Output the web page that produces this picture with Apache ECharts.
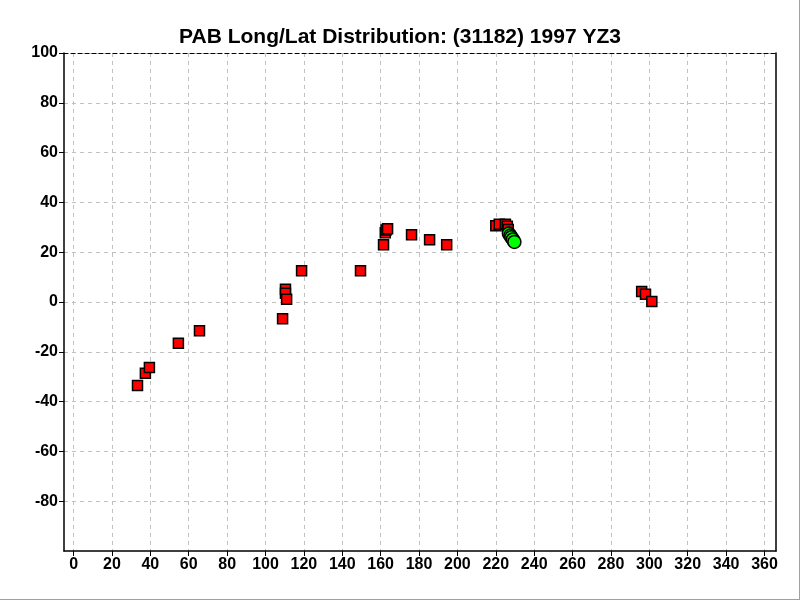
<!DOCTYPE html>
<html>
<head>
<meta charset="utf-8">
<script src="https://cdn.jsdelivr.net/npm/echarts@6/dist/echarts.min.js"></script>
<style>html,body{margin:0;padding:0;background:#fff}#c{width:800px;height:600px}</style>
</head>
<body>
<div id="c"></div>
<script>
const titleText = 'PAB Long/Lat Distribution: (31182) 1997 YZ3';
const xTicks = [0,20,40,60,80,100,120,140,160,180,200,220,240,260,280,300,320,340,360];
const yTicks = [-80,-60,-40,-20,0,20,40,60,80,100];
const redLon = [33.3,37.4,39.5,54.6,65.6,108.9,110.4,110.4,111,118.8,149.5,161.5,162.4,162.8,163.6,176.1,185.5,194.4,220,221.8,225,226,226.5,296,298,301.3];
const redLat = [-33.5,-28.6,-26.3,-16.6,-11.5,-6.7,5.1,3.5,1.1,12.6,12.6,23,27.8,28.9,29.4,27,25,23,30.6,31.2,31.2,30.4,29.1,4.2,3.1,0.2];
const greenLon = [226.8,227.6,228.1,228.9,229.7];
const greenLat = [27.5,26.7,26,25.1,24.1];

const redData = redLon.map((v,i)=>[v, redLat[i]]);
const greenData = greenLon.map((v,i)=>[v, greenLat[i]]);
const lblFont = {fontFamily:'Liberation Sans, Arial, sans-serif', fontWeight:'bold', fontSize:16, color:'#000'};
const chart = echarts.init(document.getElementById('c'), null, {renderer:'canvas'});
chart.setOption({
  animation:false,
  backgroundColor:'#fff',
  title:{text:titleText,left:'center',top:22,textStyle:{fontFamily:'Liberation Sans, Arial, sans-serif',fontWeight:'bold',fontSize:21,color:'#000'}},
  grid:{left:64,top:53,width:712,height:498},
  graphic:[
    {type:'line',shape:{x1:799.5,y1:0,x2:799.5,y2:600},style:{stroke:'#a0a0a0',lineWidth:1},silent:true},
    {type:'line',shape:{x1:0,y1:599.5,x2:800,y2:599.5},style:{stroke:'#a0a0a0',lineWidth:1},silent:true}
  ],
  xAxis:[{
    type:'value',min:-5,max:366,position:'bottom',
    axisLine:{show:true,onZero:false,lineStyle:{color:'#000',width:1.5}},
    axisTick:{show:true,length:5,customValues:xTicks,lineStyle:{color:'#000'}},
    axisLabel:{customValues:xTicks,margin:6,...lblFont},
    splitLine:{show:true,lineStyle:{color:'#c0c0c0',type:[4,4]}}
  },{
    type:'value',min:-5,max:366,position:'top',
    axisLine:{show:true,onZero:false,lineStyle:{color:'#000',type:[4,3]}},
    axisTick:{show:false},axisLabel:{show:false},splitLine:{show:false}
  }],
  yAxis:[{
    type:'value',min:-100,max:100,interval:20,position:'left',
    axisLine:{show:true,onZero:false,lineStyle:{color:'#000',width:1.5}},
    axisTick:{show:true,length:5,customValues:yTicks,lineStyle:{color:'#000'}},
    axisLabel:{margin:6,customValues:yTicks,...lblFont},
    splitLine:{show:true,lineStyle:{color:'#c0c0c0',type:[4,4]}}
  },{
    type:'value',min:-100,max:100,interval:20,position:'right',
    axisLine:{show:true,onZero:false,lineStyle:{color:'#000',width:1.5}},
    axisTick:{show:false},axisLabel:{show:false},splitLine:{show:false}
  }],
  series:[{
    type:'scatter',data:redData,symbol:'rect',symbolSize:10,
    itemStyle:{color:'#ff0000',borderColor:'#000',borderWidth:1.5,opacity:1}
  },{
    type:'scatter',data:greenData,symbol:'circle',symbolSize:13,
    itemStyle:{color:'#00ff00',borderColor:'#000',borderWidth:1.5,opacity:1}
  }]
});
</script>
</body>
</html>
